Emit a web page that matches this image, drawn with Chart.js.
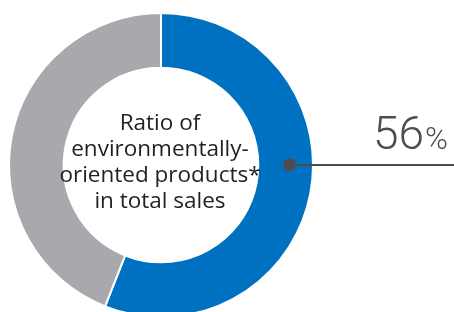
<!DOCTYPE html>
<html>
<head>
<meta charset="utf-8">
<script src="https://cdn.jsdelivr.net/npm/chart.js@4/dist/chart.umd.min.js"></script>
<style>
  html, body { margin: 0; padding: 0; background: #fff; }
  #wrap { width: 454px; height: 312px; overflow: hidden; position: relative; }
</style>
</head>
<body>
<div id="wrap"><canvas id="myChart" width="454" height="320"></canvas></div>
<script>
var labels = ['Environmentally-oriented products', 'Other']
var values = [56, 44]
var colors = ['#0070c0', '#a7a9ac']
var centerLines = ['Ratio of', 'environmentally-', 'oriented products*', 'in total sales']
var valueLabel = '56'

// draws the text in the hole and the callout on the blue ring
var extras = {
    id: 'extras',
    afterDraw: function (chart) {
        var c = chart.ctx
        var arc = chart.getDatasetMeta(0).data[0]
        var cx = arc.x, cy = arc.y
        c.save()
        c.fillStyle = '#231f20'
        c.font = '500 22.5px "Open Sans", "Noto Sans", sans-serif'
        c.textAlign = 'center'
        c.textBaseline = 'alphabetic'
        var offs = [-35, -9, 17, 43]
        centerLines.forEach(function (t, i) {
            c.fillText(t, cx - 1, cy + offs[i])
        })

        var mid = (arc.innerRadius + arc.outerRadius) / 2 + 4
        var dx = cx + mid
        c.strokeStyle = '#4d4d4f'
        c.lineWidth = 2
        c.beginPath()
        c.moveTo(dx, cy)
        c.lineTo(chart.width, cy)
        c.stroke()
        c.fillStyle = '#4d4d4f'
        c.beginPath()
        c.arc(dx, cy, 6.5, 0, Math.PI * 2)
        c.fill()

        c.fillStyle = '#4d4d4f'
        c.textAlign = 'right'
        c.font = '300 46px Roboto, "Open Sans", sans-serif'
        c.fillText(valueLabel, 424, cy - 16)
        c.textAlign = 'left'
        c.font = '300 31px Roboto, "Open Sans", sans-serif'
        c.fillText('%', 425, cy - 16)
        c.restore()
    }
}

var ctx = document.getElementById('myChart')
var myChart = new Chart(ctx, {
    type: 'doughnut',
    data: {
        labels: labels,
        datasets: [{
            data: values,
            backgroundColor: colors,
            borderColor: '#ffffff',
            borderWidth: 2
        }]
    },
    options: {
        responsive: false,
        animation: false,
        cutout: '64%',
        layout: { padding: { left: 8, top: 12, right: 140, bottom: 2 } },
        plugins: {
            legend: { display: false },
            tooltip: { enabled: false }
        }
    },
    plugins: [extras]
})
</script>
</body>
</html>
